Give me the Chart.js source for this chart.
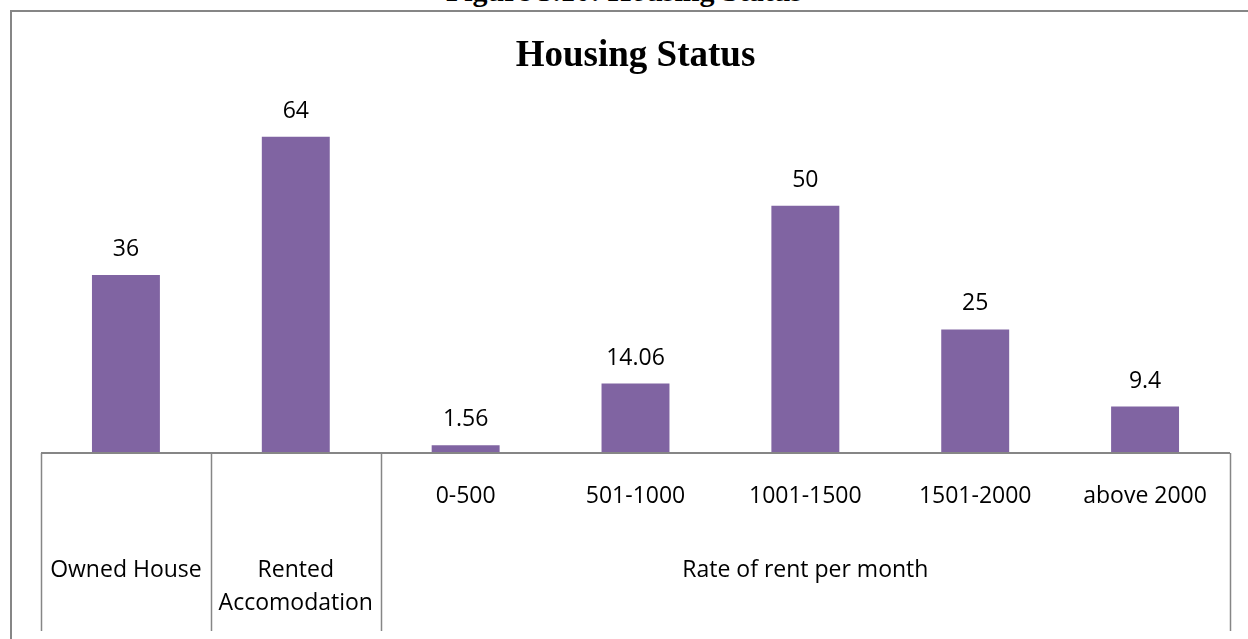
<!DOCTYPE html>
<html>
<head>
<meta charset="utf-8">
<title>Housing Status</title>
<script src="https://cdn.jsdelivr.net/npm/chart.js"></script>
<style>
  html, body { margin: 0; padding: 0; background: #fff; overflow: hidden; }
  #page { position: relative; width: 1248px; height: 639px; overflow: hidden; }
  #caption {
    position: absolute; left: 0; top: -24px; width: 1248px;
    text-align: center; font: bold 30px/30px "Liberation Serif", "Times New Roman", serif; color: #000;
  }
  #frame {
    position: absolute; left: 10px; top: 10px; width: 1300px; height: 700px;
    border-left: 2px solid #868686; border-top: 2px solid #868686;
  }
  #wrap { position: absolute; left: 0; top: 0; width: 1248px; height: 639px; }
</style>
</head>
<body>
<div id="page">
  <div id="caption">Figure 5.10: Housing Status</div>
  <div id="frame"></div>
  <div id="wrap"><canvas id="housingChart"></canvas></div>
</div>
<script>
// chart data
const categories = ['Owned House', 'Rented Accomodation', '0-500', '501-1000', '1001-1500', '1501-2000', 'above 2000'];
const values = [36, 64, 1.56, 14.06, 50, 25, 9.4];
const valueLabels = ['36', '64', '1.56', '14.06', '50', '25', '9.4'];
// two-level category axis
const subLabels = ['', '', '0-500', '501-1000', '1001-1500', '1501-2000', 'above 2000'];
const groupLabels = [['Owned House'], ['Rented', 'Accomodation'], ['Rate of rent per month']];
const groupSpans = [1, 1, 5];

const BAR_COLOR = '#8064A2';
const AXIS_COLOR = '#868686';
const LABEL_FONT = '23px "Open Sans", sans-serif';

// value labels above each bar
const barValues = {
    id: 'barValues',
    afterDatasetsDraw(chart) {
        const ctx = chart.ctx;
        const meta = chart.getDatasetMeta(0);
        ctx.save();
        ctx.font = LABEL_FONT;
        ctx.fillStyle = '#000';
        ctx.textAlign = 'center';
        ctx.textBaseline = 'alphabetic';
        meta.data.forEach((bar, i) => {
            ctx.fillText(valueLabels[i], bar.x, bar.y - 19);
        });
        ctx.restore();
    }
};

// axis line, group separators and the two rows of category labels
const multiLevelAxis = {
    id: 'multiLevelAxis',
    afterDraw(chart) {
        const ctx = chart.ctx;
        const x = chart.scales.x;
        const bottom = chart.chartArea.bottom;
        const edge = i => x.getPixelForValue(i - 0.5);

        ctx.save();
        ctx.strokeStyle = AXIS_COLOR;
        ctx.lineWidth = 2;
        ctx.beginPath();
        ctx.moveTo(edge(0), bottom);
        ctx.lineTo(edge(categories.length), bottom);
        ctx.stroke();

        // separators at group boundaries
        ctx.lineWidth = 1.5;
        let start = 0;
        const bounds = [0];
        groupSpans.forEach(s => { start += s; bounds.push(start); });
        ctx.beginPath();
        bounds.forEach(b => {
            const px = Math.round(edge(b)) + 0.5;
            ctx.moveTo(px, bottom);
            ctx.lineTo(px, bottom + 178);
        });
        ctx.stroke();

        ctx.font = LABEL_FONT;
        ctx.fillStyle = '#000';
        ctx.textAlign = 'center';
        ctx.textBaseline = 'alphabetic';

        // first row
        subLabels.forEach((lab, i) => {
            if (lab) ctx.fillText(lab, x.getPixelForValue(i), bottom + 50);
        });

        // second row
        groupLabels.forEach((lines, g) => {
            const cx = (edge(bounds[g]) + edge(bounds[g + 1])) / 2;
            lines.forEach((line, k) => {
                ctx.fillText(line, cx, bottom + 124 + k * 33);
            });
        });
        ctx.restore();
    }
};

new Chart(document.getElementById('housingChart'), {
    type: 'bar',
    data: {
        labels: categories,
        datasets: [{
            data: values,
            backgroundColor: BAR_COLOR,
            borderWidth: 0,
            barPercentage: 0.4,
            categoryPercentage: 1.0
        }]
    },
    options: {
        responsive: true,
        maintainAspectRatio: false,
        animation: false,
        layout: { padding: { left: 41, right: 18, top: 0, bottom: 186 } },
        scales: {
            x: { display: false },
            y: { display: false, min: 0, max: 70 }
        },
        plugins: {
            legend: { display: false },
            tooltip: { enabled: false },
            title: {
                display: true,
                text: 'Housing Status',
                color: '#000',
                font: { family: '"Liberation Serif", "Times New Roman", serif', size: 37, weight: 'bold', lineHeight: 1.2 },
                padding: { top: 34, bottom: 28.6 }
            }
        }
    },
    plugins: [barValues, multiLevelAxis]
});
</script>
</body>
</html>
